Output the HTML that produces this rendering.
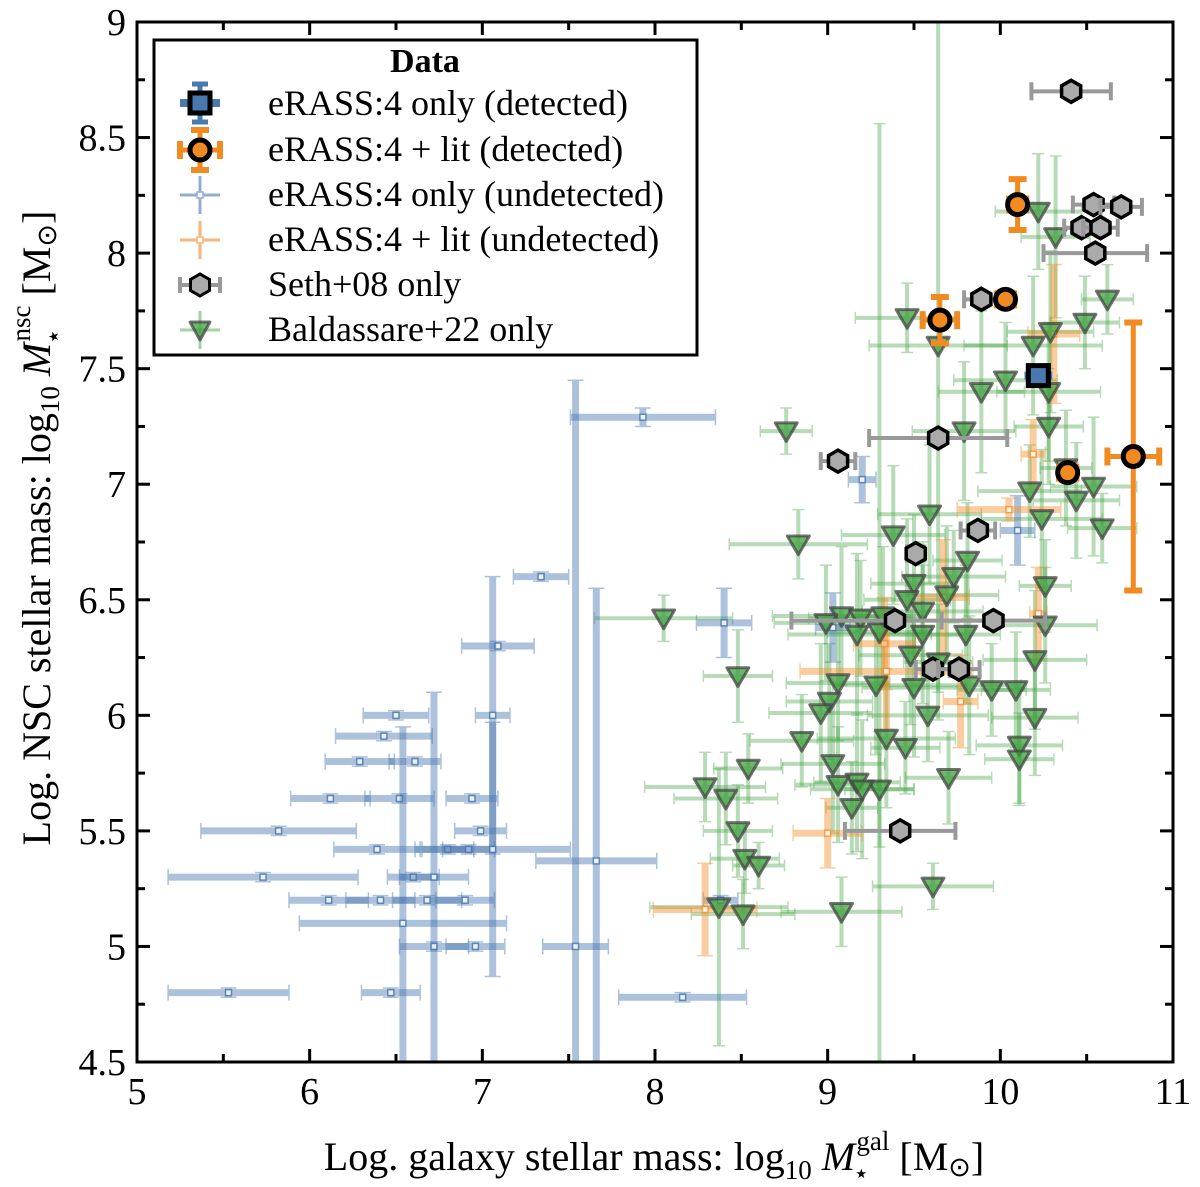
<!DOCTYPE html>
<html><head><meta charset="utf-8"><style>
html,body{margin:0;background:#fff;width:1200px;height:1187px;overflow:hidden}
#wrap{position:relative;width:1200px;height:1187px;overflow:hidden}
svg{display:block;font-family:"Liberation Serif",serif;position:absolute;left:0;top:0}
</style></head><body>
<div id="wrap">
<svg id="chart" width="1200" height="1187" viewBox="0 0 1200 1187" xmlns="http://www.w3.org/2000/svg">
<g id="marks"></g>
<g id="axes"></g>
</svg>
<svg width="1200" height="1187" xmlns="http://www.w3.org/2000/svg" font-family="Liberation Serif, serif">
<text x="654" y="1170" font-size="40" text-anchor="middle">Log. galaxy stellar mass: log<tspan font-size="27" dy="9">10</tspan><tspan dy="-9"> </tspan><tspan font-style="italic">M</tspan><tspan font-size="26" dx="-2" dy="12">⋆</tspan><tspan font-size="27" dx="-13" dy="-32">gal</tspan><tspan dy="20"> [M</tspan><tspan font-size="27" dy="6">⊙</tspan><tspan dy="-6">]</tspan></text>
<text transform="translate(50,528) rotate(-90)" font-size="40" text-anchor="middle">Log. NSC stellar mass: log<tspan font-size="27" dy="9">10</tspan><tspan dy="-9"> </tspan><tspan font-style="italic">M</tspan><tspan font-size="26" dx="-2" dy="12">⋆</tspan><tspan font-size="27" dx="-13" dy="-32">nsc</tspan><tspan dy="20"> [M</tspan><tspan font-size="27" dy="6">⊙</tspan><tspan dy="-6">]</tspan></text>
<g>
<rect x="154" y="40" width="543" height="315" fill="#fff" stroke="#000" stroke-width="3"/>
<text x="425" y="72" font-size="34" font-weight="bold" text-anchor="middle">Data</text>
<g>
<line x1="200" y1="84" x2="200" y2="122" stroke="#4a78b0" stroke-width="5"/><line x1="192" y1="84" x2="208" y2="84" stroke="#4a78b0" stroke-width="5"/><line x1="192" y1="122" x2="208" y2="122" stroke="#4a78b0" stroke-width="5"/>
<line x1="180" y1="103" x2="220" y2="103" stroke="#4a78b0" stroke-width="8"/>
<rect x="190" y="93" width="20" height="20" fill="#4a78b0" stroke="#000" stroke-width="5"/>
<text x="268" y="115" font-size="36">eRASS:4 only (detected)</text></g>
<g>
<line x1="200" y1="130" x2="200" y2="170" stroke="#f28a22" stroke-width="5"/><line x1="191" y1="130" x2="209" y2="130" stroke="#f28a22" stroke-width="6"/><line x1="191" y1="170" x2="209" y2="170" stroke="#f28a22" stroke-width="6"/>
<line x1="180" y1="150" x2="220" y2="150" stroke="#f28a22" stroke-width="5"/><line x1="180" y1="141" x2="180" y2="159" stroke="#f28a22" stroke-width="6"/><line x1="220" y1="141" x2="220" y2="159" stroke="#f28a22" stroke-width="6"/>
<circle cx="200" cy="150" r="10" fill="#f28a22" stroke="#000" stroke-width="5"/>
<text x="268" y="161" font-size="36">eRASS:4 + lit (detected)</text></g>
<g>
<g opacity="0.6"><line x1="180" y1="195" x2="220" y2="195" stroke="#4a78b0" stroke-width="3"/><line x1="200" y1="176" x2="200" y2="214" stroke="#4a78b0" stroke-width="3"/>
<rect x="197" y="192" width="6" height="6" fill="#fff" stroke="#4a78b0" stroke-width="1.5"/></g>
<text x="268" y="206" font-size="36">eRASS:4 only (undetected)</text></g>
<g>
<line x1="180" y1="240" x2="220" y2="240" stroke="#f5b67a" stroke-width="3"/><line x1="200" y1="221" x2="200" y2="259" stroke="#f5b67a" stroke-width="3"/>
<rect x="197" y="237" width="6" height="6" fill="#fff" stroke="#f5b67a" stroke-width="1.5"/>
<text x="268" y="251" font-size="36">eRASS:4 + lit (undetected)</text></g>
<g>
<line x1="180" y1="285" x2="220" y2="285" stroke="#999" stroke-width="4"/><line x1="180" y1="277" x2="180" y2="293" stroke="#999" stroke-width="4"/><line x1="220" y1="277" x2="220" y2="293" stroke="#999" stroke-width="4"/>
<path d="M209.5,290.5 L200,296 L190.5,290.5 L190.5,279.5 L200,274 L209.5,279.5Z" fill="#aaa" stroke="#000" stroke-width="3"/>
<text x="268" y="296" font-size="36">Seth+08 only</text></g>
<g>
<line x1="180" y1="330" x2="220" y2="330" stroke="#4aa84a" stroke-width="3" opacity="0.5"/><line x1="200" y1="311" x2="200" y2="349" stroke="#4aa84a" stroke-width="3" opacity="0.5"/>
<path d="M190,322 L210,322 L200,340 Z" fill="rgba(60,160,60,0.75)" stroke="rgba(70,70,70,0.75)" stroke-width="3" stroke-linejoin="round"/>
<text x="268" y="341" font-size="36">Baldassare+22 only</text></g>
</g>
</svg>
</div>
<script>
// ---- data ----
const blueUndX = [7.93,7.34,7.09,6.50,7.06,6.43,6.29,6.61,6.12,6.52,6.94,5.82,6.99,6.39,6.80,6.92,7.06,5.73,6.60,6.72,6.11,6.41,6.68,6.90,6.54,6.72,6.96,5.53,6.47,7.54,7.66,8.16,8.40,9.20,9.03,10.10,8.38];
const blueUndY = [7.29,6.60,6.30,6.00,6.00,5.91,5.80,5.80,5.64,5.64,5.64,5.50,5.50,5.42,5.42,5.42,5.42,5.30,5.30,5.30,5.20,5.20,5.20,5.20,5.10,5.00,5.00,4.80,4.80,5.00,5.37,4.78,6.40,7.02,6.38,6.80,5.20];
const blueUndXe = [0.42,0.16,0.21,0.19,0.10,0.28,0.20,0.15,0.23,0.20,0.15,0.45,0.15,0.25,0.15,0.15,0.45,0.55,0.15,0.20,0.23,0.20,0.20,0.17,0.60,0.20,0.17,0.35,0.17,0.19,0.35,0.37,0.16,0.08,0.10,0.10,0.10];
const blueUndYe = [0.04,0.02,0.02,0.02,0.60,0.02,0.02,0.02,0.02,0.02,0.02,0.02,0.02,0.02,0.02,0.02,0.55,0.02,0.02,0.80,0.02,0.02,0.02,0.02,0.85,0.02,0.02,0.02,0.02,2.45,1.18,0.02,0.15,0.10,0.15,0.15,0.02];

const orUndX = [10.19,10.31,10.05,9.67,10.22,9.33,9.34,9.77,9.00,8.29];
const orUndY = [7.13,7.65,6.89,6.51,6.44,6.31,6.19,6.06,5.49,5.16];
const orUndXe = [0.07,0.15,0.30,0.15,0.05,0.18,0.50,0.10,0.20,0.30];
const orUndYe = [0.15,0.30,0.05,0.25,0.20,0.20,0.25,0.20,0.15,0.20];

const sethX = [10.41,10.54,10.70,10.47,10.58,10.55,9.89,9.64,9.06,9.87,9.51,9.39,9.96,9.61,9.76,9.42];
const sethY = [8.70,8.21,8.20,8.11,8.11,8.00,7.80,7.20,7.10,6.80,6.70,6.41,6.41,6.20,6.20,5.50];
const sethXe = [0.23,0.12,0.12,0.10,0.10,0.30,0.10,0.40,0.10,0.10,0.05,0.60,0.30,0.10,0.12,0.32];

const orDetX = [10.10,9.65,10.03,10.39,10.77];
const orDetY = [8.21,7.71,7.80,7.05,7.12];
const orDetXe = [0.05,0.10,0.05,0.05,0.15];
const orDetYe = [0.11,0.10,0.03,0.03,0.58];

const blueDetX = [10.22];
const blueDetY = [7.47];
const blueDetXe = [0.08];
const blueDetYe = [0.05];

const baldX = [10.22,10.32,10.62,10.49,10.29,9.46,10.19,10.03,9.89,10.28,8.76,9.79,10.28,10.38,10.54,10.17,10.44,10.24,10.59,9.59,8.83,9.38,9.81,9.73,9.50,9.69,9.46,10.26,8.05,9.08,9.19,9.32,9.55,8.99,9.17,9.30,9.55,9.80,10.26,9.48,9.64,10.20,8.48,9.06,9.28,9.50,9.95,9.82,10.09,9.01,8.96,9.58,10.20,8.85,9.34,9.45,10.11,10.11,8.54,9.03,9.17,9.30,9.06,9.20,9.70,9.14,8.29,8.41,8.48,8.52,8.60,8.37,8.51,9.08,9.61,9.64];
const baldY = [8.18,8.07,7.80,7.70,7.66,7.72,7.60,7.45,7.40,7.40,7.23,7.23,7.25,7.07,6.99,6.97,6.93,6.85,6.81,6.87,6.74,6.78,6.67,6.60,6.57,6.52,6.50,6.56,6.42,6.43,6.42,6.43,6.45,6.40,6.35,6.36,6.35,6.35,6.39,6.26,6.23,6.24,6.17,6.14,6.13,6.12,6.11,6.13,6.11,6.06,6.01,6.00,5.99,5.89,5.90,5.86,5.87,5.81,5.77,5.79,5.71,5.68,5.70,5.68,5.73,5.60,5.69,5.64,5.50,5.38,5.35,5.17,5.14,5.15,5.26,7.60];
const baldXe = [0.25,0.20,0.15,0.20,0.25,0.30,0.40,0.30,0.25,0.30,0.15,0.30,0.20,0.15,0.25,0.30,0.25,0.35,0.20,0.30,0.40,0.30,0.20,0.30,0.25,0.30,0.25,0.15,0.40,0.40,0.30,0.25,0.35,0.30,0.40,0.30,0.25,0.20,0.30,0.30,0.20,0.30,0.20,0.30,0.25,0.30,0.20,0.30,0.20,0.25,0.30,0.35,0.25,0.30,0.40,0.20,0.25,0.20,0.20,0.30,0.25,0.20,0.25,0.30,0.25,0.15,0.35,0.30,0.20,0.20,0.15,0.40,0.30,0.35,0.35,0.40];
const baldYe = [0.25,0.35,0.15,0.20,0.35,0.15,0.30,0.25,0.35,0.30,0.10,0.30,0.25,0.25,0.30,0.20,0.25,0.30,0.15,0.30,0.15,0.30,0.25,0.20,0.30,0.30,0.35,0.20,0.10,0.30,0.25,0.30,0.30,0.25,0.35,2.20,0.30,0.30,0.25,0.30,0.25,0.30,0.20,0.25,0.30,0.30,0.20,0.30,0.25,0.25,0.30,0.20,0.25,0.20,0.30,0.20,0.25,0.20,0.15,0.30,0.30,0.25,0.25,0.30,0.20,0.20,0.15,0.20,0.20,0.15,0.10,0.60,0.15,0.15,0.10,1.50];

const xTicks = [5,6,7,8,9,10,11];
const xTickLabels = ["5","6","7","8","9","10","11"];
const yTicks = [4.5,5,5.5,6,6.5,7,7.5,8,8.5,9];
const yTickLabels = ["4.5","5","5.5","6","6.5","7","7.5","8","8.5","9"];

// ---- scales ----
const L=137,R=1173,T=22,B=1062, X0=5,X1=11,Y0=4.5,Y1=9;
const sx=v=>L+(v-X0)/(X1-X0)*(R-L);
const sy=v=>B-(v-Y0)/(Y1-Y0)*(B-T);
const NS="http://www.w3.org/2000/svg";
const marks=document.getElementById('marks');
const axes=document.getElementById('axes');
function el(tag,attrs,parent){const e=document.createElementNS(NS,tag);for(const k in attrs)e.setAttribute(k,attrs[k]);parent.appendChild(e);return e;}

const defs=el('defs',{},marks);
const cp=el('clipPath',{id:'clip'},defs);
el('rect',{x:L,y:T,width:R-L,height:B-T},cp);
const g=el('g',{'clip-path':'url(#clip)'},marks);

function errbar(parent,x,y,xe,ye,color,w,op,cap,capw){
  const gg=el('g',{opacity:op},parent);
  const cx=sx(x),cy=sy(y),x1=sx(x-xe),x2=sx(x+xe),y1=sy(y-ye),y2=sy(y+ye);
  el('line',{x1:x1,y1:cy,x2:x2,y2:cy,stroke:color,'stroke-width':w},gg);
  el('line',{x1:cx,y1:y1,x2:cx,y2:y2,stroke:color,'stroke-width':w},gg);
  if(cap){
    el('line',{x1:x1,y1:cy-cap,x2:x1,y2:cy+cap,stroke:color,'stroke-width':capw},gg);
    el('line',{x1:x2,y1:cy-cap,x2:x2,y2:cy+cap,stroke:color,'stroke-width':capw},gg);
    el('line',{x1:cx-cap,y1:y1,x2:cx+cap,y2:y1,stroke:color,'stroke-width':capw},gg);
    el('line',{x1:cx-cap,y1:y2,x2:cx+cap,y2:y2,stroke:color,'stroke-width':capw},gg);
  }
  return gg;
}
function tri(parent,cx,cy,s){
  return el('path',{d:`M${cx-s},${cy-s*0.75} L${cx+s},${cy-s*0.75} L${cx},${cy+s*0.95} Z`,fill:'rgba(60,160,60,0.75)',stroke:'rgba(70,70,70,0.75)','stroke-width':3,'stroke-linejoin':'round'},parent);
}
function hex(parent,cx,cy,r,fill,stroke,sw){
  let p='';for(let i=0;i<6;i++){const a=Math.PI/6+i*Math.PI/3;p+=(i?'L':'M')+(cx+r*Math.cos(a)).toFixed(1)+','+(cy+r*Math.sin(a)).toFixed(1);}
  return el('path',{d:p+'Z',fill:fill,stroke:stroke,'stroke-width':sw},parent);
}

for(let i=0;i<baldX.length;i++){
  const e=errbar(g,baldX[i],baldY[i],baldXe[i],baldYe[i],'#4aa84a',4,0.4,6,1.5);
  
  
}
for(let i=0;i<blueUndX.length;i++){
  const e=errbar(g,blueUndX[i],blueUndY[i],blueUndXe[i],blueUndYe[i],'#4a78b0',7,0.45,8,1.5);
  
  
  const m=el('rect',{x:sx(blueUndX[i])-3,y:sy(blueUndY[i])-3,width:6,height:6,fill:'#fff',stroke:'#4a78b0','stroke-width':1.5,opacity:0.8},g);
  
  
}
for(let i=0;i<orUndX.length;i++){
  const e=errbar(g,orUndX[i],orUndY[i],orUndXe[i],orUndYe[i],'#f5922e',7,0.45,8,1.5);
  
  
  const m=el('rect',{x:sx(orUndX[i])-3,y:sy(orUndY[i])-3,width:6,height:6,fill:'#fff',stroke:'#f5922e','stroke-width':1.5,opacity:0.8},g);
  
  
}
for(let i=0;i<baldX.length;i++){
  const t=tri(g,sx(baldX[i]),sy(baldY[i]),11);
  
  
}
for(let i=0;i<sethX.length;i++){
  const e=errbar(g,sethX[i],sethY[i],sethXe[i],0,'#999',4,1,9,4);
  
  
  const h=hex(g,sx(sethX[i]),sy(sethY[i]),11,'#aaaaaa','#000',3.5);
  
  
}
for(let i=0;i<orDetX.length;i++){
  const e=errbar(g,orDetX[i],orDetY[i],orDetXe[i],orDetYe[i],'#f28a22',5,1,9,6);
  
  
  const c=el('circle',{cx:sx(orDetX[i]),cy:sy(orDetY[i]),r:10,fill:'#f28a22',stroke:'#000','stroke-width':5},g);
  
  
}
for(let i=0;i<blueDetX.length;i++){
  const e=errbar(g,blueDetX[i],blueDetY[i],blueDetXe[i],blueDetYe[i],'#4a78b0',8,1,0,0);
  
  
  const r=el('rect',{x:sx(blueDetX[i])-10,y:sy(blueDetY[i])-10,width:20,height:20,fill:'#4a78b0',stroke:'#000','stroke-width':5},g);
  
  
}

// ---- axes ----
el('rect',{x:L,y:T,width:R-L,height:B-T,fill:'none',stroke:'#000','stroke-width':3},axes);
for(let v=5;v<=11.001;v+=0.5){
  const major=Math.abs(v-Math.round(v))<1e-6, len=major?13:8, x=sx(v);
  el('line',{x1:x,y1:B,x2:x,y2:B-len,stroke:'#000','stroke-width':3},axes);
  el('line',{x1:x,y1:T,x2:x,y2:T+len,stroke:'#000','stroke-width':3},axes);
}
for(let v=4.5;v<=9.001;v+=0.25){
  const major=Math.abs(v*2-Math.round(v*2))<1e-6, len=major?13:8, y=sy(v);
  el('line',{x1:L,y1:y,x2:L+len,y2:y,stroke:'#000','stroke-width':3},axes);
  el('line',{x1:R,y1:y,x2:R-len,y2:y,stroke:'#000','stroke-width':3},axes);
}
for(let i=0;i<xTicks.length;i++){
  const t=el('text',{x:sx(xTicks[i]),y:1104,'font-size':38,'text-anchor':'middle'},axes);
  t.textContent=xTickLabels[i];
  
  
}
for(let i=0;i<yTicks.length;i++){
  const t=el('text',{x:126,y:sy(yTicks[i])+13,'font-size':38,'text-anchor':'end'},axes);
  t.textContent=yTickLabels[i];
  
  
}
</script>
</body></html>
